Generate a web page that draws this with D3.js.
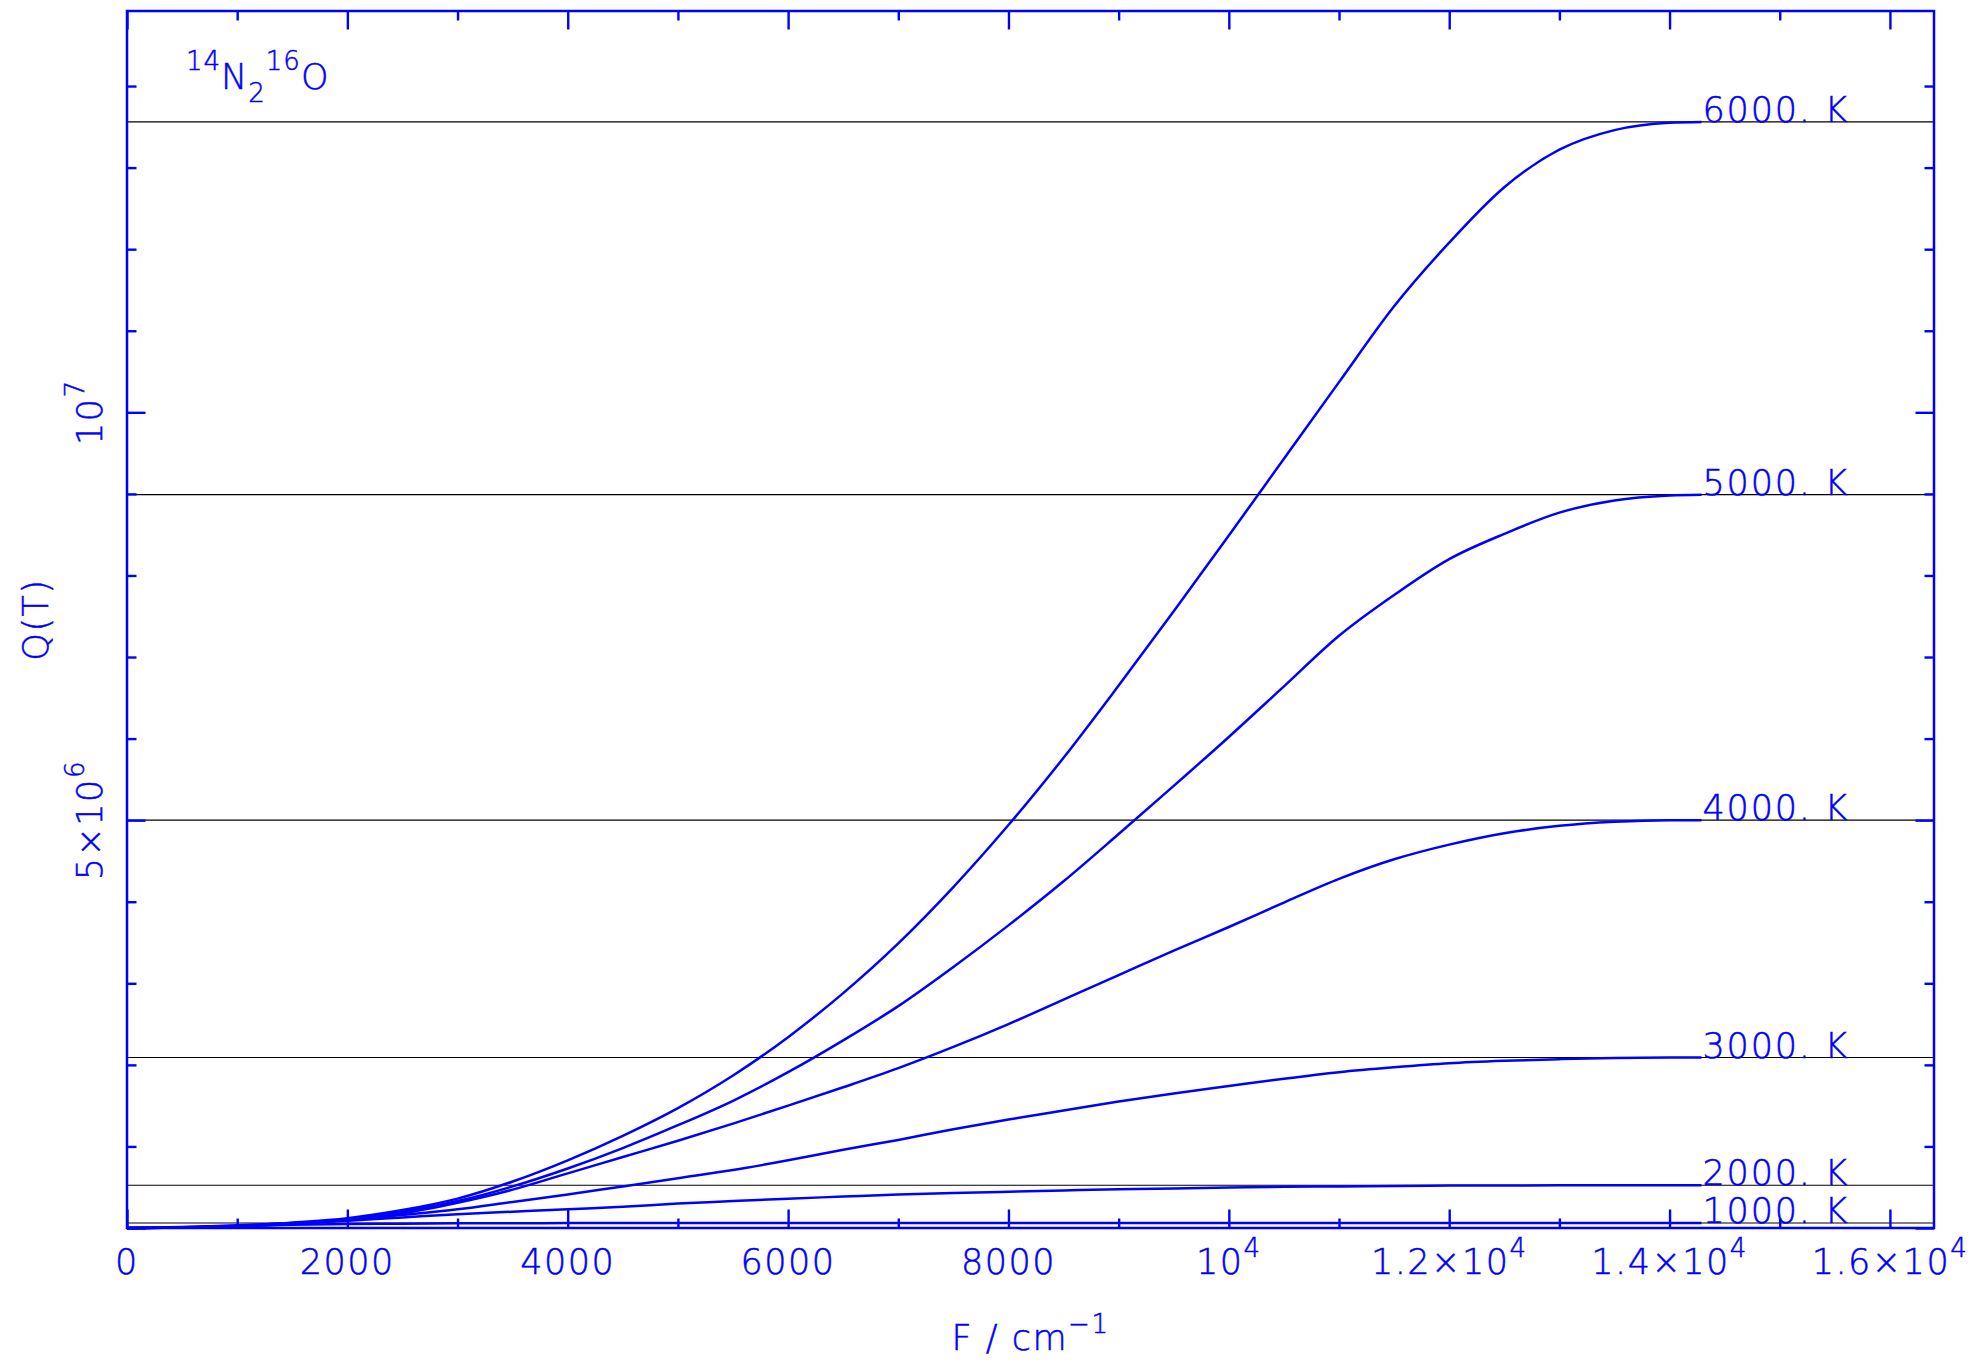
<!DOCTYPE html>
<html><head><meta charset="utf-8">
<script src="https://cdn.jsdelivr.net/npm/d3@7"></script>
<style>
body{margin:0;background:#fff}
svg{display:block}
text{font-family:"DejaVu Sans",sans-serif;fill:#0000ff;font-weight:200;stroke:#0000ff;stroke-width:0.5}
</style>
</head><body>
<svg id="chart" width="1971" height="1362"></svg>
<script>
// ---- data (Q in units of 1e6) ----
const F_GRID = [0,500,1000,1500,2000,2500,3000,3500,4000,4500,5000,5500,6000,6500,7000,7500,8000,8500,9000,9500,10000,10500,11000,11500,12000,12500,13000,13500,14000,14290];
const Q_1000 = [0,0.012,0.028,0.040,0.048,0.053,0.057,0.059,0.060,0.061,0.061,0.061,0.061,0.061,0.061,0.061,0.061,0.061,0.061,0.061,0.061,0.061,0.061,0.061,0.061,0.061,0.061,0.061,0.061,0.061];
const Q_2000 = [0,0.01,0.033,0.06,0.09,0.13,0.17,0.20,0.23,0.26,0.30,0.33,0.36,0.385,0.41,0.43,0.445,0.46,0.475,0.485,0.495,0.505,0.51,0.515,0.52,0.522,0.523,0.524,0.524,0.524];
const Q_3000 = [0,0.006,0.025,0.06,0.095,0.16,0.23,0.32,0.41,0.51,0.61,0.71,0.83,0.96,1.08,1.21,1.33,1.44,1.55,1.65,1.74,1.83,1.91,1.97,2.02,2.05,2.07,2.085,2.09,2.09];
const Q_4000 = [0,0.005,0.02,0.05,0.10,0.18,0.31,0.47,0.67,0.87,1.07,1.28,1.50,1.725,1.96,2.22,2.50,2.80,3.10,3.40,3.69,3.99,4.28,4.52,4.70,4.84,4.93,4.98,5.00,5.00];
const Q_5000 = [0,0.005,0.022,0.055,0.11,0.20,0.33,0.51,0.73,0.98,1.26,1.56,1.91,2.30,2.72,3.20,3.71,4.25,4.83,5.42,6.02,6.64,7.26,7.76,8.20,8.51,8.77,8.92,8.98,8.99];
const Q_6000 = [0,0.005,0.025,0.065,0.12,0.22,0.36,0.57,0.83,1.13,1.47,1.87,2.34,2.88,3.49,4.18,4.94,5.765,6.65,7.56,8.49,9.43,10.37,11.30,12.08,12.76,13.22,13.46,13.55,13.56];
const SERIES_Q = [Q_1000, Q_2000, Q_3000, Q_4000, Q_5000, Q_6000];
const TEMP_LABELS = ["1000. K","2000. K","3000. K","4000. K","5000. K","6000. K"];
const Q_TOTAL = [0.061, 0.524, 2.09, 5.00, 8.99, 13.56];

const X_MAJOR = [0,2000,4000,6000,8000,10000,12000,14000,16000];
const X_MINOR = [1000,3000,5000,7000,9000,11000,13000,15000];
const X_TICK_LABELS = [["0",""],["2000",""],["4000",""],["6000",""],["8000",""],["10","4"],["1.2×10","4"],["1.4×10","4"],["1.6×10","4"]];
const Y_MAJOR = [0,5,10];
const Y_MINOR = [1,2,3,4,6,7,8,9,11,12,13,14];
const Y_TICK_VALUES = [5,10];
const Y_TICK_LABELS = [["5×10","6"],["10","7"]];

// ---- layout ----
const L = 127, R = 1934, T = 11, B = 1228;
const svg = d3.select("#chart");
const x = d3.scaleLinear().domain([0,16400]).range([L,R]);
const y = d3.scaleLinear().domain([0,14.92]).range([B,T]);
const BLUE = "#0000ff";

// reference lines (total Q)
svg.append("g").selectAll("line").data(Q_TOTAL).join("line")
  .attr("x1", L).attr("x2", R)
  .attr("y1", d => y(d)).attr("y2", d => y(d))
  .attr("stroke", "#000").attr("stroke-width", 1.2);

// curves
const line = d3.line().x((d,i) => x(F_GRID[i])).y(d => y(d)).curve(d3.curveMonotoneX);
svg.append("g").selectAll("path").data(SERIES_Q).join("path")
  .attr("d", d => line(d))
  .attr("fill","none").attr("stroke", BLUE).attr("stroke-width", 2.5);

// curve labels
svg.append("g").selectAll("text").data(TEMP_LABELS).join("text")
  .attr("x", (d,i) => x(F_GRID[F_GRID.length-1]) + 1)
  .attr("y", (d,i) => y(Q_TOTAL[i]))
  .attr("font-size", 35).attr("letter-spacing", 1.8)
  .text(d => d);

// ticks
function styleAxis(g){ g.select(".domain").remove(); g.selectAll("line").attr("stroke", BLUE).attr("stroke-width", 2.4); g.selectAll("text").remove(); }
const MAJ = 18.5, MIN = 9.5;
svg.append("g").attr("transform",`translate(0,${B})`).call(d3.axisBottom(x).tickValues(X_MAJOR).tickSize(-MAJ)).call(styleAxis);
svg.append("g").attr("transform",`translate(0,${B})`).call(d3.axisBottom(x).tickValues(X_MINOR).tickSize(-MIN)).call(styleAxis);
svg.append("g").attr("transform",`translate(0,${T})`).call(d3.axisTop(x).tickValues(X_MAJOR).tickSize(-MAJ)).call(styleAxis);
svg.append("g").attr("transform",`translate(0,${T})`).call(d3.axisTop(x).tickValues(X_MINOR).tickSize(-MIN)).call(styleAxis);
svg.append("g").attr("transform",`translate(${L},0)`).call(d3.axisLeft(y).tickValues(Y_MAJOR).tickSize(-MAJ)).call(styleAxis);
svg.append("g").attr("transform",`translate(${L},0)`).call(d3.axisLeft(y).tickValues(Y_MINOR).tickSize(-MIN)).call(styleAxis);
svg.append("g").attr("transform",`translate(${R},0)`).call(d3.axisRight(y).tickValues(Y_MAJOR).tickSize(-MAJ)).call(styleAxis);
svg.append("g").attr("transform",`translate(${R},0)`).call(d3.axisRight(y).tickValues(Y_MINOR).tickSize(-MIN)).call(styleAxis);

// frame
svg.append("rect").attr("x",L).attr("y",T).attr("width",R-L).attr("height",B-T)
  .attr("fill","none").attr("stroke",BLUE).attr("stroke-width",2.5);

// x tick labels
X_MAJOR.forEach((v,i) => {
  const [base, sup] = X_TICK_LABELS[i];
  const t = svg.append("text").attr("x", x(v)).attr("y", 1274)
    .attr("text-anchor","middle").attr("font-size",35).attr("letter-spacing",1.5);
  t.append("tspan").text(base);
  if (sup) t.append("tspan").attr("font-size",26).attr("dy",-17.5).text(sup);
});

// y tick labels (rotated)
Y_TICK_VALUES.forEach((v,i) => {
  const [base, sup] = Y_TICK_LABELS[i];
  const t = svg.append("text")
    .attr("transform",`translate(101.5,${y(v)}) rotate(-90)`)
    .attr("text-anchor","middle").attr("font-size",35).attr("letter-spacing",1.5);
  t.append("tspan").text(base);
  if (sup) t.append("tspan").attr("font-size",26).attr("dy",-17.5).text(sup);
});

// axis titles
const xt = svg.append("text").attr("x",(L+R)/2).attr("y",1350)
  .attr("text-anchor","middle").attr("font-size",35).attr("letter-spacing",1.5);
xt.append("tspan").text("F / cm");
xt.append("tspan").attr("font-size",26).attr("dy",-17.5).text("−1");

svg.append("text").attr("transform",`translate(48,${(T+B)/2}) rotate(-90)`)
  .attr("text-anchor","middle").attr("font-size",35).attr("letter-spacing",1.5).text("Q(T)");

// molecule label
const ml = svg.append("text").attr("x",186).attr("y",89).attr("font-size",35).attr("letter-spacing",1);
ml.append("tspan").attr("font-size",26).attr("dy",-19).text("14");
ml.append("tspan").attr("dy",19).text("N");
ml.append("tspan").attr("font-size",26).attr("dy",13).text("2");
ml.append("tspan").attr("font-size",26).attr("dy",-32).text("16");
ml.append("tspan").attr("dy",19).text("O");
</script>
</body></html>
